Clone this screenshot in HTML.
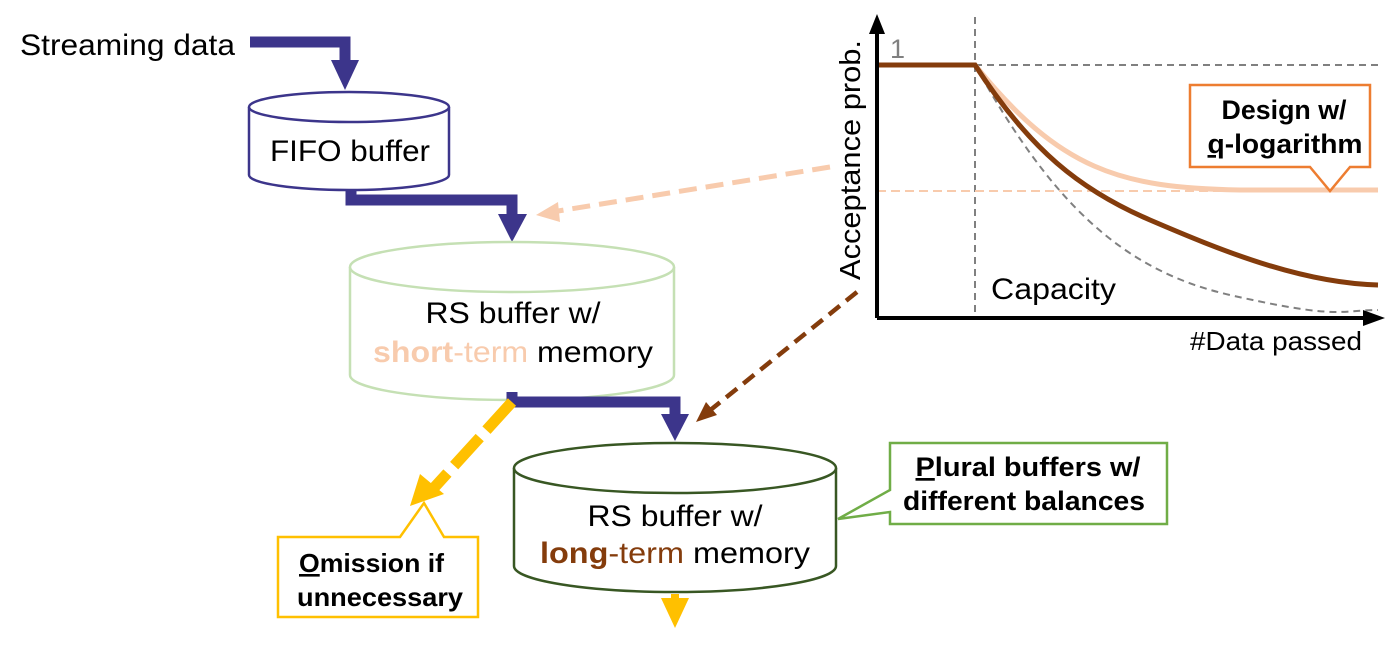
<!DOCTYPE html>
<html><head><meta charset="utf-8"><style>
html,body{margin:0;padding:0;background:#fff;}
svg{display:block;font-family:"Liberation Sans",Arial,sans-serif;}
</style></head><body>
<svg width="1395" height="662" viewBox="0 0 1395 662" xmlns="http://www.w3.org/2000/svg">
<!-- Streaming data -->
<text x="20" y="55" font-size="30" fill="#000" textLength="215" lengthAdjust="spacingAndGlyphs">Streaming data</text>
<polyline points="250,42 345,42 345,62" fill="none" stroke="#3c358b" stroke-width="11"/>
<polygon points="331,60 359,60 345,90" fill="#3c358b"/>

<!-- FIFO cylinder -->
<g fill="#fff" stroke="#3c358b" stroke-width="2.5">
<path d="M249,107 L249,175 A100,15 0 0 0 449,175 L449,107"/>
<ellipse cx="349" cy="107" rx="100" ry="15"/>
</g>
<text x="350" y="161" font-size="30" text-anchor="middle" textLength="160" lengthAdjust="spacingAndGlyphs">FIFO buffer</text>

<polyline points="351,190 351,200 512,200 512,218" fill="none" stroke="#3c358b" stroke-width="11"/>
<polygon points="498,214 527,214 512,242" fill="#3c358b"/>

<!-- RS short -->
<g fill="#fff" stroke="#c5e0b4" stroke-width="2.5">
<path d="M350,267 L350,375 A162,25 0 0 0 674,375 L674,267"/>
<ellipse cx="512" cy="267" rx="162" ry="25"/>
</g>
<text x="513" y="323" font-size="30" text-anchor="middle" textLength="175" lengthAdjust="spacingAndGlyphs">RS buffer w/</text>
<text x="513" y="362" font-size="30" text-anchor="middle" textLength="280" lengthAdjust="spacingAndGlyphs"><tspan fill="#f8cbad" font-weight="bold">short</tspan><tspan fill="#f8cbad">-term</tspan> memory</text>

<polyline points="512,392 512,402 675,402 675,418" fill="none" stroke="#3c358b" stroke-width="11"/>
<polygon points="661,414 689,414 675,441" fill="#3c358b"/>

<!-- yellow dashed -->
<line x1="512" y1="402" x2="432" y2="490" stroke="#ffc000" stroke-width="11" stroke-dasharray="38,10"/>
<polygon points="410,506 420,474 444,494" fill="#ffc000"/>

<!-- RS long -->
<g fill="#fff" stroke="#385723" stroke-width="2.5">
<path d="M514,468 L514,566 A161,26 0 0 0 836,566 L836,468"/>
<ellipse cx="675" cy="468" rx="161" ry="25"/>
</g>
<text x="675" y="526" font-size="30" text-anchor="middle" textLength="175" lengthAdjust="spacingAndGlyphs">RS buffer w/</text>
<text x="675" y="563" font-size="30" text-anchor="middle" textLength="270" lengthAdjust="spacingAndGlyphs"><tspan fill="#843c0c" font-weight="bold">long</tspan><tspan fill="#843c0c">-term</tspan> memory</text>
<rect x="671" y="594" width="8" height="8" fill="#ffc000"/>
<polygon points="661,598 689,598 675,628" fill="#ffc000"/>

<!-- Omission callout -->
<path d="M278,537 L400,537 L424,503 L444,537 L478,537 L478,617 L278,617 Z" fill="#fff" stroke="#ffc000" stroke-width="2.5"/>
<text x="299" y="572" font-size="26" font-weight="bold" textLength="145" lengthAdjust="spacingAndGlyphs"><tspan text-decoration="underline">O</tspan>mission if</text>
<text x="297" y="606" font-size="26" font-weight="bold" textLength="166" lengthAdjust="spacingAndGlyphs">unnecessary</text>

<!-- Plural callout -->
<path d="M890,443 L1167,443 L1167,524 L890,524 L890,512 L838,519 L890,490 Z" fill="#fff" stroke="#70ad47" stroke-width="2.5"/>
<text x="1028" y="476" font-size="27" font-weight="bold" text-anchor="middle" textLength="225" lengthAdjust="spacingAndGlyphs"><tspan text-decoration="underline">P</tspan>lural buffers w/</text>
<text x="1024" y="510" font-size="27" font-weight="bold" text-anchor="middle" textLength="242" lengthAdjust="spacingAndGlyphs">different balances</text>

<!-- dashed connectors -->
<line x1="830" y1="167" x2="552" y2="212" stroke="#f8cbad" stroke-width="5" stroke-dasharray="18,9"/>
<polygon points="536,215 558,202 560,222" fill="#f8cbad"/>
<line x1="857" y1="292" x2="708" y2="412" stroke="#843c0c" stroke-width="4.5" stroke-dasharray="14,8"/>
<polygon points="696,422 706,402 717,415" fill="#843c0c"/>

<!-- chart -->
<line x1="975" y1="17" x2="975" y2="318" stroke="#808080" stroke-width="2" stroke-dasharray="7,5"/>
<line x1="975" y1="65" x2="1378" y2="65" stroke="#808080" stroke-width="2" stroke-dasharray="7,5"/>
<line x1="877" y1="191" x2="1378" y2="191" stroke="#f8cbad" stroke-width="2" stroke-dasharray="9,5"/>
<path d="M975,65 C1060,170 1120,188 1240,190 L1378,190" fill="none" stroke="#f8cbad" stroke-width="5"/>
<path d="M975,65 C1050,200 1120,270 1230,295 S1340,310 1378,310" fill="none" stroke="#808080" stroke-width="2" stroke-dasharray="7,5"/>
<path d="M877,65 L975,65 C1030,150 1080,190 1150,220 S1300,283 1378,285" fill="none" stroke="#843c0c" stroke-width="5"/>
<line x1="877" y1="318" x2="877" y2="32" stroke="#000" stroke-width="4"/>
<polygon points="869,34 885,34 877,14" fill="#000"/>
<line x1="877" y1="318" x2="1365" y2="318" stroke="#000" stroke-width="4"/>
<polygon points="1363,310 1363,326 1385,318" fill="#000"/>
<text x="890" y="58" font-size="27" fill="#808080">1</text>
<text x="991" y="299" font-size="30" textLength="125" lengthAdjust="spacingAndGlyphs">Capacity</text>
<text x="1362" y="350" font-size="26" text-anchor="end" textLength="172" lengthAdjust="spacingAndGlyphs">#Data passed</text>
<text transform="translate(860,160) rotate(-90)" font-size="29" text-anchor="middle" textLength="240" lengthAdjust="spacingAndGlyphs">Acceptance prob.</text>

<path d="M1190,85 L1370,85 L1370,167 L1350,167 L1330,191 L1310,167 L1190,167 Z" fill="#fff" stroke="#ed7d31" stroke-width="2.5"/>
<text x="1284" y="119" font-size="27" font-weight="bold" text-anchor="middle" textLength="125" lengthAdjust="spacingAndGlyphs">Design w/</text>
<text x="1285" y="153" font-size="27" font-weight="bold" text-anchor="middle" textLength="155" lengthAdjust="spacingAndGlyphs"><tspan text-decoration="underline">q</tspan>-logarithm</text>
</svg>
</body></html>
